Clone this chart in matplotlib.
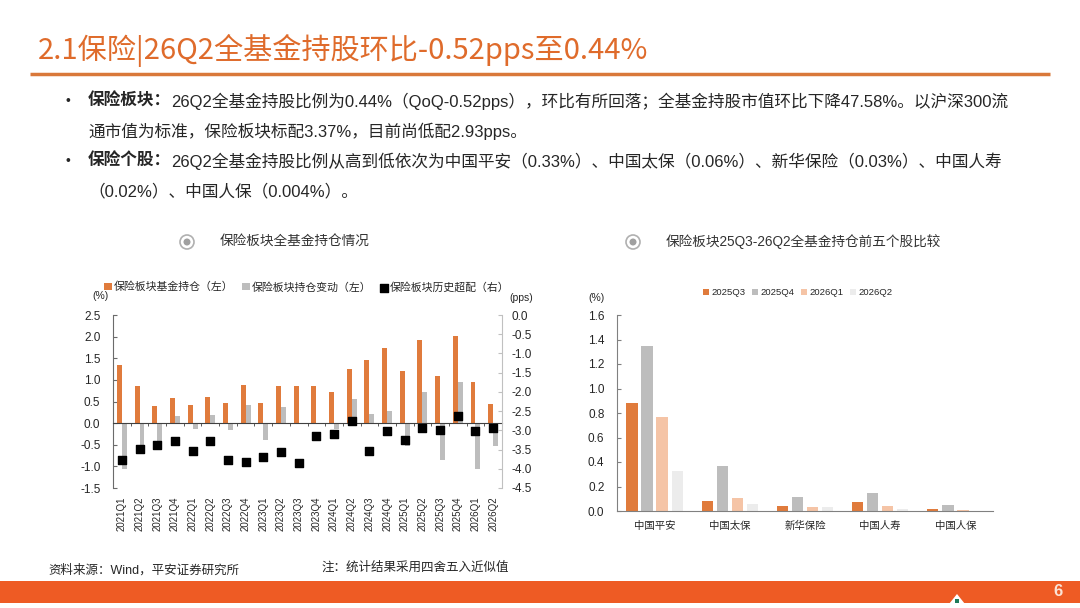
import matplotlib.pyplot as plt
from matplotlib.patches import Rectangle, Circle, Polygon
import numpy as np

plt.rcParams['font.family'] = ['Liberation Sans', 'Noto Sans CJK SC', 'DejaVu Sans']
plt.rcParams['axes.unicode_minus'] = False

# ---- left chart data ----
quarters = ['2021Q1', '2021Q2', '2021Q3', '2021Q4', '2022Q1', '2022Q2', '2022Q3', '2022Q4',
            '2023Q1', '2023Q2', '2023Q3', '2023Q4', '2024Q1', '2024Q2', '2024Q3', '2024Q4',
            '2025Q1', '2025Q2', '2025Q3', '2025Q4', '2026Q1', '2026Q2']
holding = [1.35, 0.85, 0.40, 0.57, 0.43, 0.61, 0.46, 0.87, 0.47, 0.85, 0.85,
           0.85, 0.71, 1.26, 1.46, 1.73, 1.20, 1.93, 1.08, 2.02, 0.96, 0.44]
change = [-1.07, -0.50, -0.45, 0.17, -0.14, 0.18, -0.15, 0.41, -0.40, 0.38, 0.01,
          0.00, -0.14, 0.55, 0.20, 0.27, -0.53, 0.73, -0.85, 0.94, -1.06, -0.52]
overweight = [-3.76, -3.48, -3.37, -3.27, -3.54, -3.27, -3.76, -3.83, -3.69, -3.57, -3.85,
              -3.16, -3.09, -2.77, -3.54, -3.01, -3.24, -2.94, -2.98, -2.63, -3.01, -2.93]

# ---- right chart data ----
stocks = ['中国平安', '中国太保', '新华保险', '中国人寿', '中国人保']
periods = ['2025Q3', '2025Q4', '2026Q1', '2026Q2']
v_25q3 = [0.88, 0.08, 0.04, 0.07, 0.015]
v_25q4 = [1.35, 0.37, 0.115, 0.145, 0.05]
v_26q1 = [0.77, 0.11, 0.035, 0.04, 0.005]
v_26q2 = [0.33, 0.06, 0.03, 0.02, 0.004]

ORANGE = '#E07B3C'
GRAY = '#BDBDBD'
PEACH = '#F5C4A6'
LIGHT = '#ECECEC'
TXT = '#262626'

W, H = 1080, 608
fig = plt.figure(figsize=(W / 100, H / 100), dpi=100, facecolor='white')

# overlay in pixel coordinates for page decoration
ov = fig.add_axes([0, 0, 1, 1], zorder=-1)
ov.set_xlim(0, W)
ov.set_ylim(H, 0)
ov.axis('off')


def fx(x):
    return x / W


def fy(y):
    return 1 - y / H


# title + rule
ov.text(38, 50, '2.1保险|26Q2全基金持股环比-0.52pps至0.44%', fontsize=21,
        color='#DF6B2B', va='center', ha='left', fontweight='medium',
        family=['Noto Sans CJK SC', 'DejaVu Sans'])
ov.plot([30, 1050], [74, 74], color='#D9783A', lw=2.5, solid_capstyle='butt')

# bullets
renderer = fig.canvas.get_renderer()
FS = 12


def bullet_line(y, bold, rest):
    ov.text(65, y, '•', fontsize=10, color=TXT, va='center')
    t = ov.text(88, y, bold, fontsize=FS, fontweight='bold', color=TXT, va='center')
    bb = t.get_window_extent(renderer)
    ov.text(bb.x1, y, rest, fontsize=FS, color=TXT, va='center')


bullet_line(101, '保险板块：', '26Q2全基金持股比例为0.44%（QoQ-0.52pps），环比有所回落；全基金持股市值环比下降47.58%。以沪深300流')
ov.text(88, 131, '通市值为标准，保险板块标配3.37%，目前尚低配2.93pps。', fontsize=FS, color=TXT, va='center')
bullet_line(161, '保险个股：', '26Q2全基金持股比例从高到低依次为中国平安（0.33%）、中国太保（0.06%）、新华保险（0.03%）、中国人寿')
ov.text(88, 191, '（0.02%）、中国人保（0.004%）。', fontsize=FS, color=TXT, va='center')

# sub titles with radio icons
for cx, tx, label in [(187, 220, '保险板块全基金持仓情况'),
                      (633, 666, '保险板块25Q3-26Q2全基金持仓前五个股比较')]:
    ov.add_patch(Circle((cx, 242), 7, facecolor='white', edgecolor='#B0B0B0', lw=1.2))
    ov.add_patch(Circle((cx, 242), 3.5, facecolor='#A0A0A0', edgecolor='none'))
    ov.text(tx, 242, label, fontsize=9.8, color='#333333', va='center')

# footer
ov.text(48, 570, '资料来源：Wind，平安证券研究所', fontsize=9, color=TXT, va='center')
ov.text(322, 568, '注：统计结果采用四舍五入近似值', fontsize=9, color=TXT, va='center')
ov.add_patch(Rectangle((0, 581), W, 22, facecolor='#EE5B24', edgecolor='none'))
ov.text(1058, 591, '6', fontsize=12, color='#FBE3D6', va='center', ha='center', fontweight='bold')
ov.add_patch(Polygon([(949, 604), (957, 594), (965, 604)], closed=True,
                     facecolor='white', edgecolor='none'))
ov.add_patch(Rectangle((955, 599), 4, 4, facecolor='#1E7B5A', edgecolor='none'))

# ---------------- left chart ----------------
ax = fig.add_axes([fx(113), fy(488), (502 - 113) / W, (488 - 315) / H])
x = np.arange(len(quarters))
bw = 0.28
ax.bar(x - bw / 2, holding, bw, color=ORANGE, label='保险板块基金持仓（左）', zorder=2)
ax.bar(x + bw / 2, change, bw, color=GRAY, label='保险板块持仓变动（左）', zorder=2)
ax.set_xlim(-0.5, len(quarters) - 0.5)
ax.set_ylim(-1.5, 2.5)
ax.set_yticks(np.arange(-1.5, 2.51, 0.5))
ax.set_yticklabels([f'{v:.1f}' for v in np.arange(-1.5, 2.51, 0.5)])
ax.spines['top'].set_visible(False)
ax.spines['right'].set_visible(False)
ax.spines['left'].set_color('#6B6B6B')
ax.spines['bottom'].set_position(('data', 0))
ax.spines['bottom'].set_color('#404040')
ax.set_xticks(x)
ax.set_xticklabels(quarters, rotation=90, fontsize=7, color=TXT)
ax.set_xticks(x[:-1] + 0.5, minor=True)
ax.tick_params(axis='x', which='major', length=0, pad=53)
ax.tick_params(axis='x', which='minor', length=2.5, direction='out', color='#404040')
ax.tick_params(axis='y', direction='in', length=3, labelsize=8.5, labelcolor=TXT,
               color='#6B6B6B', pad=9)

ax2 = ax.twinx()
ax2.scatter(x, overweight, marker='s', s=40, color='black', zorder=5,
            label='保险板块历史超配（右）')
ax2.set_ylim(-4.5, 0)
ax2.set_yticks(np.arange(-4.5, 0.01, 0.5))
ax2.set_yticklabels([f'{v:.1f}' for v in np.arange(-4.5, 0.01, 0.5)])
for s in ['top', 'left', 'bottom']:
    ax2.spines[s].set_visible(False)
ax2.spines['right'].set_color('#C0C0C0')
ax2.tick_params(axis='y', direction='in', length=3, labelsize=8.5, labelcolor=TXT,
                color='#C0C0C0', pad=7)

ov.text(92, 296, '(%)', fontsize=7.5, color=TXT, va='center')
ov.text(509, 298, '(pps)', fontsize=7.5, color=TXT, va='center')

h1, l1 = ax.get_legend_handles_labels()
h2, l2 = ax2.get_legend_handles_labels()
fig.legend(h1 + h2, l1 + l2, loc='center left', bbox_to_anchor=(fx(104), fy(287)),
           ncol=3, frameon=False, fontsize=7.8, handlelength=0.7, handleheight=0.7,
           handletextpad=0.2, columnspacing=0.8, borderpad=0, borderaxespad=0,
           labelcolor=TXT)

# ---------------- right chart ----------------
bx = fig.add_axes([fx(617), fy(511), (993 - 617) / W, (511 - 315) / H])
xs = np.arange(len(stocks))
series = [v_25q3, v_25q4, v_26q1, v_26q2]
colors = [ORANGE, GRAY, PEACH, LIGHT]
offsets = [-0.3, -0.1, 0.1, 0.3]
for vals, c, off, lab in zip(series, colors, offsets, periods):
    bx.bar(xs + off, vals, 0.15, color=c, label=lab, zorder=2)
bx.set_xlim(-0.5, len(stocks) - 0.5)
bx.set_ylim(0, 1.6)
bx.set_yticks(np.arange(0, 1.61, 0.2))
bx.set_yticklabels([f'{v:.1f}' for v in np.arange(0, 1.61, 0.2)])
bx.set_xticks(xs)
bx.set_xticklabels(stocks, fontsize=7.5, color=TXT)
bx.spines['top'].set_visible(False)
bx.spines['right'].set_visible(False)
bx.spines['left'].set_color('#808080')
bx.spines['bottom'].set_color('#808080')
bx.tick_params(axis='x', length=0, pad=7)
bx.tick_params(axis='y', direction='in', length=3, labelsize=8.5, labelcolor=TXT,
               color='#808080', pad=9)
ov.text(588, 298, '(%)', fontsize=7.5, color=TXT, va='center')

bx.legend(loc='center left', bbox_to_anchor=(fx(703), fy(293)), bbox_transform=fig.transFigure,
          ncol=4, frameon=False, fontsize=6.8, handlelength=0.6, handleheight=0.6,
          handletextpad=0.3, columnspacing=0.7, borderpad=0, borderaxespad=0,
          labelcolor=TXT)

fig.savefig('out.png', dpi=100, facecolor='white')
